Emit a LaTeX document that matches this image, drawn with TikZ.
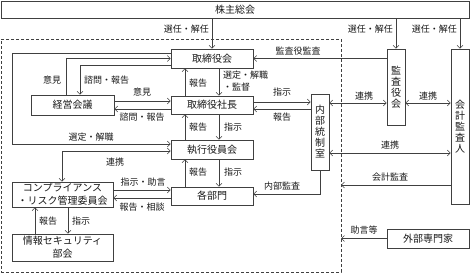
\documentclass[tikz,border=0pt]{standalone}
\usepackage{fontspec}
\setmainfont{Noto Sans CJK JP}
\usetikzlibrary{arrows.meta}
\begin{document}
\begin{tikzpicture}[x=1pt,y=-1pt,
  line/.style={draw=black!75, line width=0.6pt},
  box/.style={line, fill=white, inner sep=0pt, font=\fontsize{10}{11}\selectfont, text=black!90, align=center},
  twoline/.style={font=\fontsize{10}{13}\selectfont},
  lbl/.style={inner sep=0pt, font=\fontsize{9}{12}\selectfont, text=black!90},
  >={Straight Barb[length=3pt,width=6pt]},
  conn/.style={line, ->}
]
\useasboundingbox (0,0) rectangle (470,273);
\node[draw=black!75, line width=0.6pt, dash pattern=on 3pt off 2pt, minimum width=340, minimum height=233, inner sep=0pt, outer sep=0pt] (zone) at (171,155.5) {};

% boxes
\node[box, minimum width=468, minimum height=17] (sh) at (235,9.5) {株主総会};
\node[box, minimum width=82, minimum height=19] (tb) at (212,58.5) {取締役会};
\node[box, minimum width=82, minimum height=18] (pres) at (212,105) {取締役社長};
\node[box, minimum width=82, minimum height=19] (exe) at (212,149.5) {執行役員会};
\node[box, minimum width=82, minimum height=18] (dept) at (212,196) {各部門};
\node[box, minimum width=83, minimum height=20] (keiei) at (72.5,105) {経営会議};
\node[box, twoline, minimum width=101, minimum height=25] (comp) at (62.5,194.5) {コンプライアンス\\・リスク管理委員会};
\node[box, twoline, minimum width=101, minimum height=27] (info) at (62.5,247.5) {情報セキュリティ\\部会};
\node[box, minimum width=18, minimum height=76] (naibu) at (320,132) {内\\部\\統\\制\\室};
\node[box, minimum width=18, minimum height=76] (kansa) at (396,87) {監\\査\\役\\会};
\node[box, minimum width=18, minimum height=155] (kaikei) at (460,126.5) {会\\計\\監\\査\\人};
\node[box, minimum width=82, minimum height=19] (gaibu) at (428,238.5) {外部専門家};

% connectors
\draw[conn] (sh.south -| tb.north) -- (tb.north);
\draw[conn] (sh.south -| kansa.north) -- (kansa.north);
\draw[conn] (sh.south -| kaikei.north) -- (kaikei.north);
\draw[conn] (kansa.west |- tb.east) -- (tb.east);
\draw[conn] (keiei.north -| 66,0) |- (tb.west);
\draw[conn] (tb.west |- 0,65) -| (keiei.north -| 80,0);
\draw[conn] (keiei.east |- 0,101) -- (pres.west |- 0,101);
\draw[conn] (pres.west |- 0,109) -- (keiei.east |- 0,109);
\draw[conn] (pres.north -| 185,0) -- (tb.south -| 185,0);
\draw[conn] (tb.south -| 219,0) -- (pres.north -| 219,0);
\draw[conn] (pres.east |- 0,102) -- (naibu.west |- 0,102);
\draw[conn] (naibu.west |- 0,109) -- (pres.east |- 0,109);
\draw[conn] (exe.north -| 185,0) -- (pres.south -| 185,0);
\draw[conn] (pres.south -| 219,0) -- (exe.north -| 219,0);
\draw[conn] (dept.north -| 185,0) -- (exe.south -| 185,0);
\draw[conn] (exe.south -| 219,0) -- (dept.north -| 219,0);
\draw[conn] (naibu.south) |- (dept.east |- 0,194);
\draw[conn] (tb.west |- 0,53) -| (12,144) -- (exe.west |- 0,144);
\draw[line, <->] (exe.west |- 0,151) -| (comp.north -| 62,0);
\draw[conn] (comp.east |- 0,190) -- (dept.west |- 0,190);
\draw[conn] (dept.west |- 0,198) -- (comp.east |- 0,198);
\draw[conn] (info.north -| 35,0) -- (comp.south -| 35,0);
\draw[conn] (comp.south -| 68,0) -- (info.north -| 68,0);
\draw[line, <->] (naibu.east |- 0,103) -- (kansa.west |- 0,103);
\draw[line, <->] (kansa.east |- 0,103) -- (kaikei.west |- 0,103);
\draw[line, <->] (naibu.east |- 0,153) -- (kaikei.west |- 0,153);
\draw[conn] (kaikei.west |- 0,185) -- (zone.east |- 0,185);
\draw[conn] (gaibu.west) -- (zone.east |- gaibu.west);

% labels
\node[lbl, anchor=east] (la1) at (209,29) {選任・解任};
\node[lbl, anchor=east] (la2) at (393,29) {選任・解任};
\node[lbl, anchor=east] (la3) at (457,29) {選任・解任};
\node[lbl] (la4) at (298,51) {監査役監査};
\node[lbl] (la5) at (52,80) {意見};
\node[lbl, anchor=west] (la6) at (84,80) {諮問・報告};
\node[lbl] (la7) at (142,92) {意見};
\node[lbl] (la8) at (142,117) {諮問・報告};
\node[lbl] (la9) at (198,83) {報告};
\node[lbl, anchor=west, align=left] (la10) at (223,81) {選定・解職\\・監督};
\node[lbl] (la11) at (282,92) {指示};
\node[lbl] (la12) at (282,117) {報告};
\node[lbl] (la13) at (198,127) {報告};
\node[lbl] (la14) at (233,127) {指示};
\node[lbl] (la15) at (198,172) {報告};
\node[lbl] (la16) at (233,172) {指示};
\node[lbl] (la17) at (282,186) {内部監査};
\node[lbl] (la18) at (91,137) {選定・解職};
\node[lbl] (la19) at (115,162) {連携};
\node[lbl] (la20) at (143,182) {指示・助言};
\node[lbl] (la21) at (142,207) {報告・相談};
\node[lbl] (la22) at (48,221) {報告};
\node[lbl] (la23) at (81,221) {指示};
\node[lbl] (la24) at (364,96) {連携};
\node[lbl] (la25) at (428,96) {連携};
\node[lbl] (la26) at (390,145) {連携};
\node[lbl] (la27) at (390,177) {会計監査};
\node[lbl] (la28) at (364,230) {助言等};
\end{tikzpicture}
\end{document}
